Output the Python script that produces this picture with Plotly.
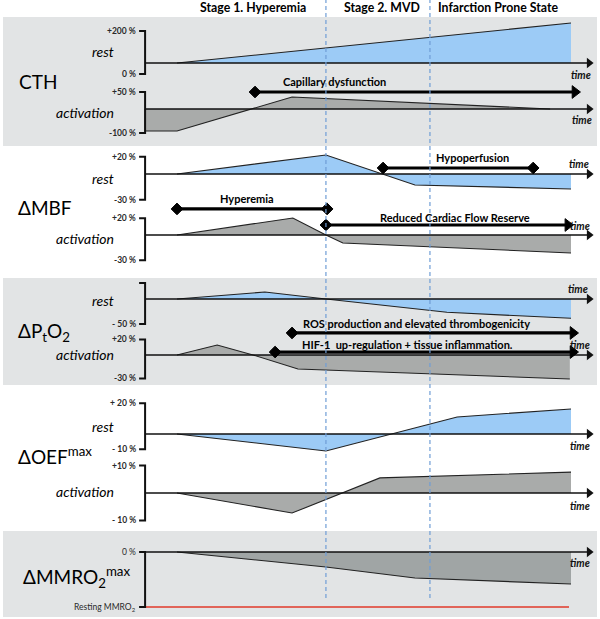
import plotly.graph_objects as go

# ---------------- data ----------------
# time axis in % of the schematic disease course (0 = onset, 100 = end)
stage_labels = ["Stage 1. Hyperemia", "Stage 2. MVD", "Infarction Prone State"]
stage_label_t = [19.3, 52.0, 81.5]
stage_bounds_t = [37.8, 64.2]
t_axis_start = -8.1
t_axis_tip = 105.6

panel_titles = ["CTH", "ΔMBF", "ΔP<sub>t</sub>O<sub>2</sub>",
                "ΔOEF<sup>max</sup>", "ΔMMRO<sub>2</sub><sup>max</sup>"]

# curves (time, % change)
cth_rest_t = [0, 100]
cth_rest_v = [0, 250]
cth_act_t = [-8.1, -8.1, 0, 29.2, 94.7]
cth_act_v = [0, -80.5, -80.5, 43.9, 0]
mbf_rest_t = [0, 37.8, 60.4, 100]
mbf_rest_v = [0, 22.1, -12.8, -17.4]
mbf_act_t = [0, 29.4, 37.8, 42.1, 100]
mbf_act_v = [0, 20.2, 0, -9.5, -21.4]
pto2_rest_t = [0, 22.3, 37.8, 64.2, 68.5, 100]
pto2_rest_v = [0, 14, 0, -23.4, -26.6, -38.6]
pto2_act_t = [0, 10.2, 19.3, 30.7, 99.7]
pto2_act_v = [0, 12.8, 0, -17.9, -30.7]
oef_rest_t = [0, 37.8, 71.1, 100]
oef_rest_v = [0, -11.1, 11.1, 16.3]
oef_act_t = [0, 29.2, 51.5, 100]
oef_act_v = [0, -7.3, 5.5, 7.6]
mmro2_t = [0, 37.8, 60.4, 100]
mmro2_v = [0, -27.3, -47.3, -58.2]
resting_mmro2_t = [-8.1, 99.5]
resting_mmro2_v = [-100, -100]

# bracket (scale) ticks per sub-row
bracket_vals = [(200, -68.75), (62.2, -87.8), (20, -30), (20, -30), (32, -50),
                (20, -30), (20, -10), (10, -10), (0, -100)]
bracket_text = [("+200 %", "0 %"), ("+50 %", "-100 %"), ("+20 %", "-30 %"),
                ("+20 %", "-30 %"), ("", "- 50 %"), ("+20 %", "-30 %"),
                ("+ 20 %", "- 10 %"), ("+10 %", "- 10 %"),
                ("0 %", "Resting MMRO<sub>2</sub>")]

# process arrows: (row, label, t_start, t_end, level, end style, label t, label lift px)
process_arrows = [
    (1, "Capillary dysfunction", 19.8, 101.0, 62.2, "arrow", 40.1, 11),
    (2, "Hypoperfusion", 52.3, 90.4, 7.0, "diamond", 75.1, 10),
    (3, "Hyperemia", 0.0, 38.1, 31.0, "diamond", 17.8, 10),
    (3, "Reduced Cardiac Flow Reserve", 37.8, 99.2, 11.9, "arrow", 70.6, 8),
    (5, "ROS production and elevated thrombogenicity", 29.2, 100.5, 28.2, "arrow", 60.8, 9),
    (5, "HIF-1\u00a0\u00a0up-regulation + tissue inflammation.", 24.9, 100.5, 3.8, "arrow", 58.6, 8),
]
# "time" label positions (row, t, level)
time_labels = [(0, 102.5, -75), (1, 102.8, -40.3), (2, 102.0, 11.6), (3, 102.3, 10.7),
               (4, 101.8, 20), (5, 102.3, 12.8), (6, 102.3, -7.8), (7, 102.3, -4.7),
               (8, 102.3, -20)]

# ---------------- layout geometry (pixels) ----------------
W, H = 600, 619
PX_T0, PX_PER_T = 177.0, 3.94
def t_of_px(px):
    return (px - PX_T0) / PX_PER_T

# sub-row: (band top px, band bottom px, baseline px, % per px)
rows = [(17, 80, 63, 6.25), (80, 146, 109, 3.66), (146, 205, 174, 1.163),
        (205, 278, 235, 1.19), (278, 328, 299, 2.0), (328, 385, 355, 1.28),
        (385, 460, 434, 0.652), (460, 531, 493, 0.364), (531, 619, 552, 1.818)]

BLUE = "#9ccbf6"
GRAY = "#a9abaa"
GRAY5 = "#a0a5a5"
PANEL = "#e2e4e5"
INK = "#111111"
FONT = "Lato"

def yname(i):
    return "y" if i == 0 else f"y{i+1}"

fig = go.Figure()
layout = dict(width=W, height=H, margin=dict(l=0, r=0, t=0, b=0, pad=0), autosize=False,
              paper_bgcolor="white", plot_bgcolor="rgba(0,0,0,0)", showlegend=False,
              xaxis=dict(range=[t_of_px(0), t_of_px(W)], domain=[0, 1], visible=False,
                         fixedrange=True))
for i, (top, bot, base, k) in enumerate(rows):
    key = "yaxis" if i == 0 else f"yaxis{i+1}"
    layout[key] = dict(domain=[1 - bot / H, 1 - top / H],
                       range=[(base - bot) * k, (base - top) * k],
                       visible=False, anchor="x", fixedrange=True)
fig.update_layout(**layout)

curves = [(cth_rest_t, cth_rest_v, BLUE), (cth_act_t, cth_act_v, GRAY),
          (mbf_rest_t, mbf_rest_v, BLUE), (mbf_act_t, mbf_act_v, GRAY),
          (pto2_rest_t, pto2_rest_v, BLUE), (pto2_act_t, pto2_act_v, GRAY),
          (oef_rest_t, oef_rest_v, BLUE), (oef_act_t, oef_act_v, GRAY),
          (mmro2_t, mmro2_v, GRAY5)]
for i, (t, v, col) in enumerate(curves):
    fig.add_trace(go.Scatter(x=t, y=v, yaxis=yname(i), mode="lines", fill="tozeroy",
                             fillcolor=col, line=dict(color="#222222", width=1.1),
                             hoverinfo="skip"))

# resting MMRO2 line
fig.add_trace(go.Scatter(x=resting_mmro2_t, y=resting_mmro2_v, yaxis=yname(8),
                         mode="lines", line=dict(color="#e03a2a", width=1.6),
                         hoverinfo="skip"))

# brackets
tick_len = 6 / PX_PER_T
for i, ((vt, vb), (lt, lb)) in enumerate(zip(bracket_vals, bracket_text)):
    fig.add_trace(go.Scatter(x=[t_axis_start - tick_len, t_axis_start, t_axis_start,
                                t_axis_start - tick_len],
                             y=[vt, vt, vb, vb], yaxis=yname(i), mode="lines",
                             line=dict(color=INK, width=2), cliponaxis=False,
                             hoverinfo="skip"))
    for val, lab in ((vt, lt), (vb, lb)):
        if lab:
            fig.add_annotation(x=t_axis_start - tick_len - 0.3, y=val, xref="x",
                               yref=yname(i), text=lab, showarrow=False,
                               xanchor="right", yanchor="middle",
                               font=dict(family=FONT, size=8.5, color="#2a2a2a",
                                         weight="bold" if i != 8 else "normal"))

# time axes (arrows)
for i in range(len(rows)):
    fig.add_trace(go.Scatter(x=[t_axis_start, t_axis_tip - 1.0], y=[0, 0],
                             yaxis=yname(i), mode="lines", cliponaxis=False,
                             line=dict(color=INK, width=1.6), hoverinfo="skip"))
    fig.add_trace(go.Scatter(x=[t_axis_tip - 1.0], y=[0], yaxis=yname(i),
                             mode="markers", cliponaxis=False,
                             marker=dict(symbol="triangle-right", size=9, color=INK,
                                         line=dict(width=0)),
                             hoverinfo="skip"))
for (i, t, v) in time_labels:
    fig.add_annotation(x=t, y=v, xref="x", yref=yname(i), text="<i>time</i>",
                       showarrow=False, font=dict(family=FONT, size=10.5, color=INK,
                                                   weight="bold"))

# process arrows
for (i, lab, t0, t1, lvl, end, lt, lift) in process_arrows:
    fig.add_trace(go.Scatter(x=[t0, t1], y=[lvl, lvl], yaxis=yname(i),
                             mode="lines+markers", cliponaxis=False,
                             line=dict(color="#000000", width=3.2),
                             marker=dict(symbol=["diamond",
                                                 "diamond" if end == "diamond" else "triangle-right"],
                                         size=[9, 9 if end == "diamond" else 11],
                                         color="#000000", opacity=1,
                                         line=dict(width=1, color="#000000")),
                             hoverinfo="skip"))
    fig.add_annotation(x=lt, y=lvl, yshift=lift, xref="x", yref=yname(i), text=lab,
                       showarrow=False, yanchor="middle",
                       font=dict(family=FONT, size=11, color="#000000", weight="bold"))

# stage boundaries
for tb in stage_bounds_t:
    fig.add_shape(type="line", x0=tb, x1=tb, xref="x", yref="paper",
                  y0=1 - 598 / H, y1=1, layer="above",
                  line=dict(color="#6f9dd6", width=1.2, dash="4px,3px"))
for lab, t in zip(stage_labels, stage_label_t):
    fig.add_annotation(x=t, y=1 - 8 / H, xref="x", yref="paper", text=lab,
                       showarrow=False, yanchor="middle",
                       font=dict(family=FONT, size=12.3, color="#000000", weight="bold"))

# panel backgrounds
for top, bot in [(17, 146), (278, 385), (531, 617)]:
    fig.add_shape(type="rect", xref="paper", yref="paper", x0=3 / W, x1=597 / W,
                  y0=1 - bot / H, y1=1 - top / H, fillcolor=PANEL, line=dict(width=0),
                  layer="below")

# panel titles and row labels
title_pos = [(17, 81), (16, 208), (16, 332), (16, 455), (21, 577)]
for lab, (px, py) in zip(panel_titles, title_pos):
    fig.add_annotation(x=px / W, y=1 - py / H, xref="paper", yref="paper", text=lab,
                       showarrow=False, xanchor="left", yanchor="middle",
                       font=dict(family=FONT, size=19, color="#000000"))
row_label_py = [52, 112, 178, 239, 300, 354, 427, 491]
for j, py in enumerate(row_label_py):
    fig.add_annotation(x=116 / W, y=1 - py / H, xref="paper", yref="paper",
                       text="<i>rest</i>" if j % 2 == 0 else "<i>activation</i>",
                       showarrow=False, xanchor="right", yanchor="middle",
                       font=dict(family=FONT, size=14, color="#000000"))

fig.write_html("out.html", config={"displayModeBar": False},
               post_script="document.body.style.margin='0px';")
